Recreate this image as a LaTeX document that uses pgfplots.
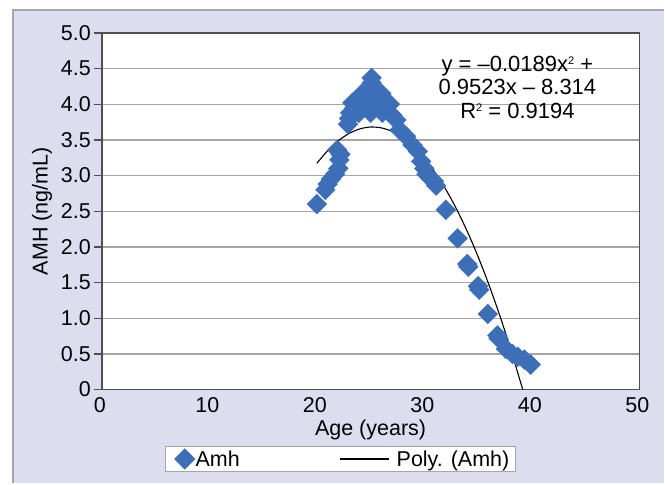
\documentclass[border=0pt]{standalone}
\usepackage{fontspec}
\setmainfont{Liberation Sans}
\usepackage{pgfplots}
\pgfplotsset{compat=1.18}
\definecolor{panel}{RGB}{220,222,239}
\definecolor{panelline}{RGB}{165,165,172}
\definecolor{amhblue}{RGB}{61,111,184}
\definecolor{axisgray}{RGB}{80,80,80}
\definecolor{gridgray}{RGB}{165,165,165}
\newcommand\cf{\fontsize{21.5}{23}\selectfont}
\newcommand\sq{\raisebox{7pt}{\fontsize{11}{11}\selectfont 2}}
\pgfplotsset{
  markleg/.style={legend image code/.code={\path (0pt,0pt);\draw[##1] plot coordinates {(14pt,0pt)};}},
  lineleg/.style={legend image code/.code={\draw[##1] (0pt,0pt) -- (49pt,0pt);\path (55pt,0pt);}},
}

\begin{document}
\begin{tikzpicture}
% page and the lavender panel behind the chart
\fill[white] (0pt,0pt) rectangle (665pt,484pt);
\fill[panel] (13pt,0pt) rectangle (665pt,474pt);
\draw[panelline, line width=1.5pt] (13pt,0pt) -- (13pt,474pt) -- (665pt,474pt);
\begin{axis}[
  at={(102pt,94pt)}, anchor=south west,
  scale only axis, width=538pt, height=357pt,
  xmin=0, xmax=50, ymin=0, ymax=5,
  axis background/.style={fill=white},
  axis line style={axisgray, line width=1.4pt},
  xtick={0,10,...,50},
  xticklabels={0,10,20,30,40,50},
  ytick={0,0.5,...,5},
  yticklabels={0,0.5,1.0,1.5,2.0,2.5,3.0,3.5,4.0,4.5,5.0},
  tick align=outside, major tick length=8pt,
  ytick pos=left, xtick pos=bottom,
  ytick style={axisgray, line width=1.2pt},
  xtick style={draw=none},
  ymajorgrids, grid style={gridgray, line width=1.3pt},
  ticklabel style={font=\cf},
  xticklabel style={inner sep=0pt, xshift=-2pt},
  yticklabel style={inner sep=3pt},
  xlabel={Age (years)}, ylabel={AMH (ng/mL)},
  label style={font=\cf},
  xlabel style={at={(axis description cs:0.5,-0.112)}, anchor=center},
  ylabel style={at={(axis description cs:-0.1115,0.5)}, anchor=center},
  legend columns=2,
  legend style={at={(0.117,-0.1947)}, anchor=west, draw=panelline,
    line width=1pt, fill=white, font=\cf, inner xsep=5pt, inner ysep=2.5pt,
    nodes={inner sep=1pt},
    /tikz/every even column/.append style={column sep=99pt}},
]
\addplot[only marks, mark=square*, mark size=7pt, mark options={rotate=45},
  color=amhblue, markleg]
  coordinates {
  (20.0,2.60) (20.8,2.80) (21.0,2.88) (21.3,2.95) (21.7,3.02) (22.0,3.10)
  (22.1,3.22) (22.2,3.30) (21.9,3.36)
  (22.9,3.72) (23.0,3.80) (23.1,3.88) (23.5,3.95) (23.3,4.02) (23.9,3.88)
  (24.2,4.15) (24.5,3.98) (24.8,4.05) (25.0,3.88) (25.0,4.20) (25.1,4.30)
  (25.1,4.37) (25.3,4.00) (25.6,3.98) (26.0,4.15) (26.1,3.88) (26.5,4.02)
  (26.8,4.00) (27.0,3.85) (27.4,3.78) (27.7,3.64) (28.3,3.55) (28.9,3.43)
  (29.4,3.34)
  (29.7,3.20) (30.0,3.10) (30.2,3.02) (30.6,2.96) (30.9,2.92) (31.1,2.86)
  (32.0,2.52) (33.1,2.12) (34.0,1.76) (34.1,1.72) (35.0,1.45) (35.1,1.40)
  (35.9,1.06) (36.8,0.76) (36.9,0.72) (37.6,0.57) (38.2,0.50) (38.7,0.46)
  (39.3,0.42) (39.9,0.35)
};
\addlegendentry{Amh}
\addplot[black, line width=1.1pt, smooth, lineleg]
  coordinates {
  (20,3.172) (21,3.349) (22,3.489) (23,3.591) (24,3.655) (25,3.681)
  (26,3.669) (27,3.620) (28,3.533) (29,3.408) (30,3.245) (31,3.044)
  (32,2.806) (33,2.530) (34,2.216) (35,1.864) (36,1.474) (37,1.047)
  (38,0.582) (39,0.079) (39.16,0.000)
};
\addlegendentry{Poly. (Amh)}
\node[align=center, font=\fontsize{22}{23.5}\selectfont] at (axis cs:38.66,4.24)
  {y = –0.0189x\sq{} +\\0.9523x – 8.314\\R\sq{} = 0.9194};
\end{axis}
\end{tikzpicture}
\end{document}
